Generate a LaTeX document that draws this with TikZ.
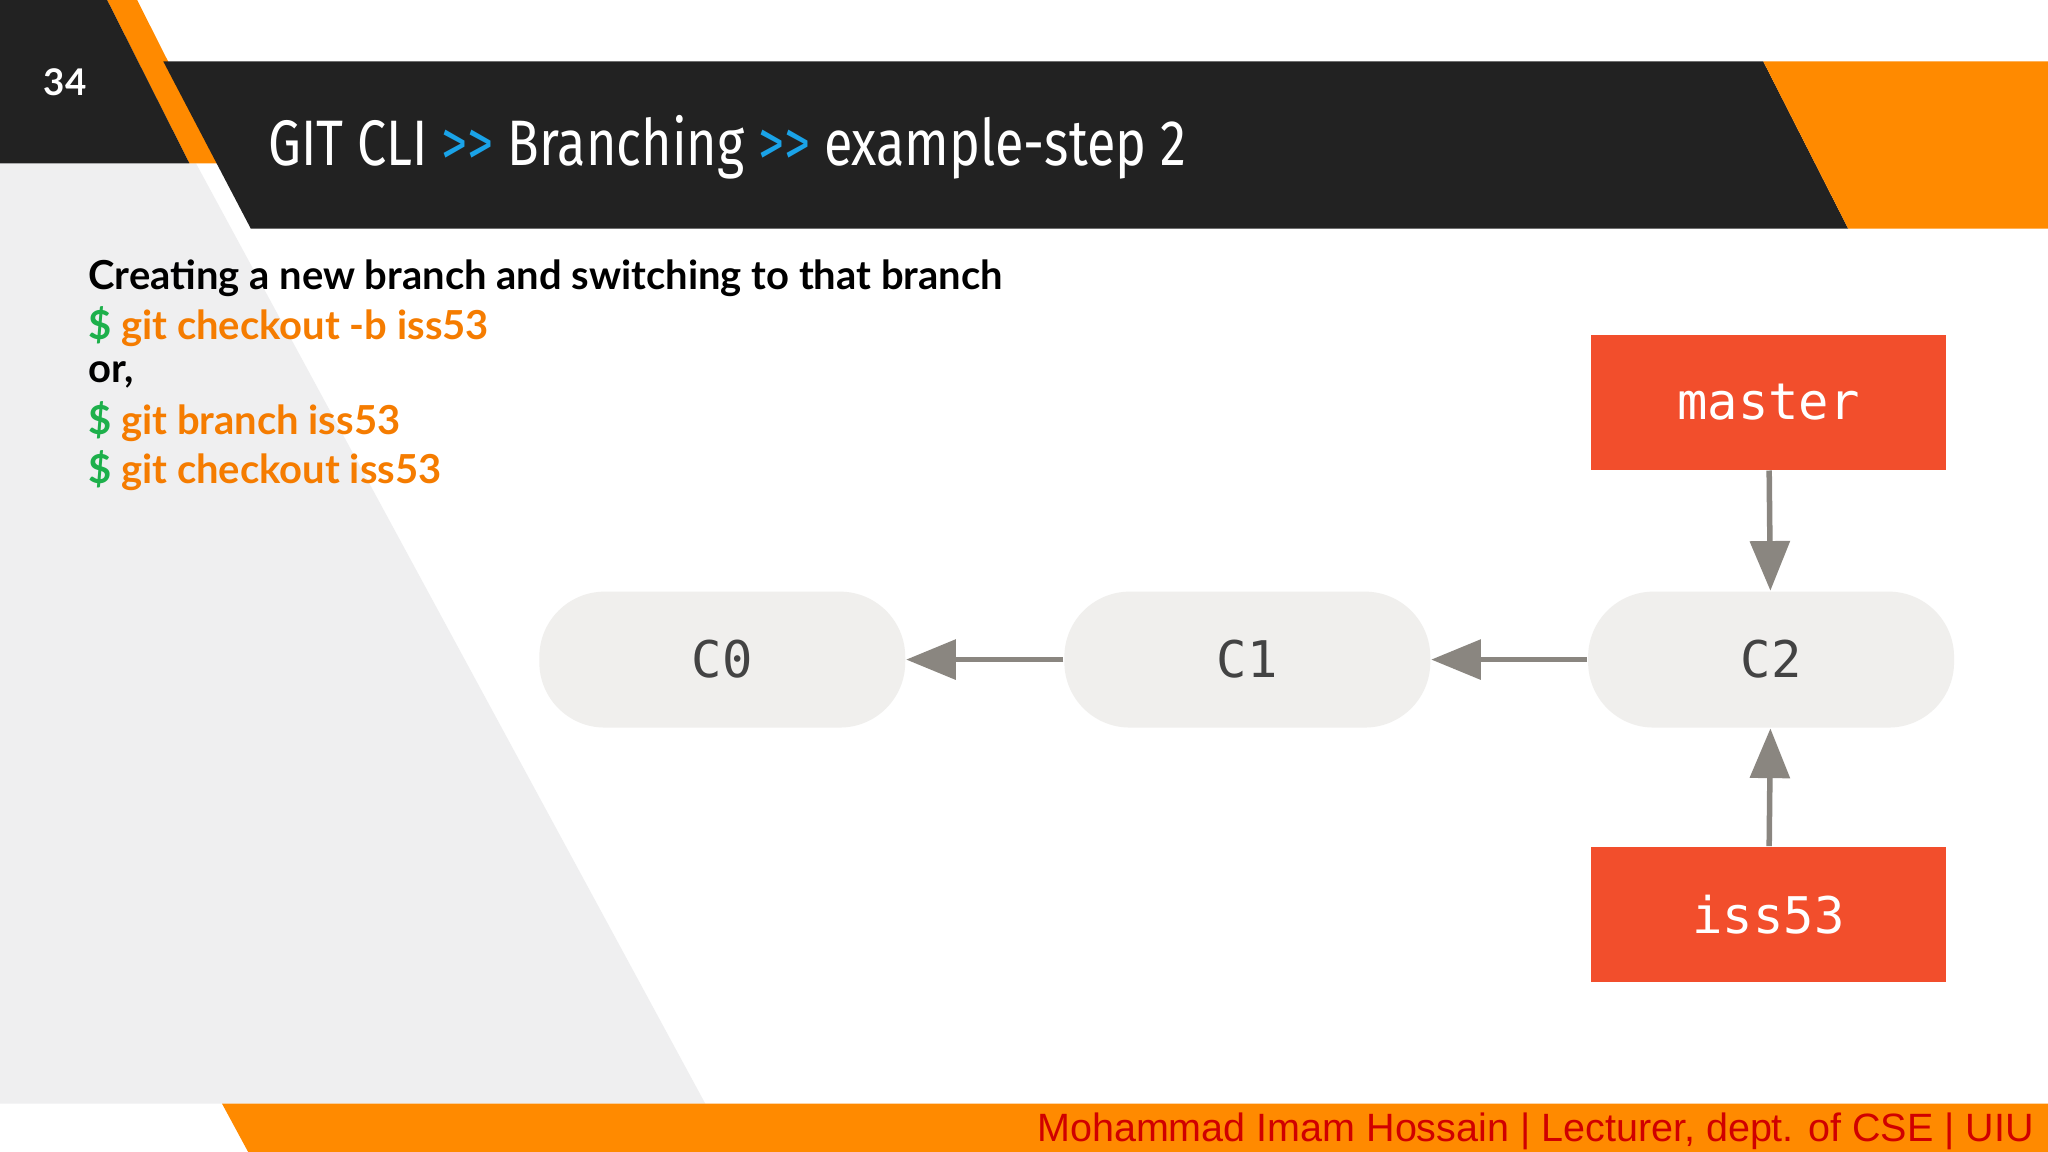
\documentclass[tikz,border=0pt]{standalone}
\usepackage{fontspec}
\setmainfont{Lato}
\newfontfamily\titlefont{Fira Sans}
\newfontfamily\monofont{DejaVu Sans Mono}
\newfontfamily\footfont{Liberation Sans}
\usetikzlibrary{arrows.meta}
\definecolor{dark}{HTML}{222222}
\definecolor{orng}{HTML}{FF8A00}
\definecolor{lgray}{HTML}{EFEFF0}
\definecolor{cyanx}{HTML}{1AA3E8}
\definecolor{greenx}{HTML}{1DB04B}
\definecolor{txtor}{HTML}{F57C00}
\definecolor{commit}{HTML}{F0EFED}
\definecolor{branchc}{HTML}{F24E2C}
\definecolor{arrowc}{HTML}{8A8680}
\definecolor{footred}{HTML}{D00000}
\tikzset{
 commitnode/.style={fill=commit,rounded corners=0.5cm,minimum width=2.8cm,minimum height=1.04cm,font=\monofont\fontsize{11}{11}\selectfont,text=dark!85,inner sep=0},
 branchnode/.style={fill=branchc,minimum width=2.72cm,minimum height=1.03cm,font=\monofont\fontsize{11}{11}\selectfont,text=white,inner sep=0},
 conn/.style={draw=arrowc,line width=1.2pt,-{Triangle[length=0.38cm,width=0.3cm]}},
 body/.style={anchor=west,font=\bfseries\fontsize{8.7}{8.7}\selectfont,inner sep=0}
}
\begin{document}
\begin{tikzpicture}[x=0.01cm,y=-0.01cm]
\useasboundingbox (0,0) rectangle (1568,882);
\fill[white] (0,0) rectangle (1568,882);
\fill[lgray] (0,125) -- (150,125) -- (540,845) -- (0,845) -- cycle;
\fill[orng] (82,0) -- (105,0) -- (168,125) -- (145,125) -- cycle;
\fill[dark] (0,0) -- (82,0) -- (145,125) -- (0,125) -- cycle;
\fill[dark] (125,47) -- (1350,47) -- (1415,175) -- (192,175) -- cycle;
\fill[orng] (1350,47) -- (1568,47) -- (1568,175) -- (1415,175) -- cycle;
\node[font=\bfseries\fontsize{8}{8}\selectfont,text=white] (num) at (50,63) {34};
\node[anchor=west,font=\titlefont\fontsize{14}{14}\selectfont,text=white,inner sep=0] (title) at (205,113) {\scalebox{0.81}[1]{GIT CLI \textcolor{cyanx}{>>} Branching \textcolor{cyanx}{>>} example-step 2}};
\node[body] (l1) at (67,213) {Creating a new branch and switching to that branch};
\node[body,text=txtor] (l2) at (67,250) {\textcolor{greenx}{\$} git checkout -b iss53};
\node[body] (l3) at (67,287) {or,};
\node[body,text=txtor] (l4) at (67,323) {\textcolor{greenx}{\$} git branch iss53};
\node[body,text=txtor] (l5) at (67,360) {\textcolor{greenx}{\$} git checkout iss53};
\node[commitnode] (c0) at (553,505) {C0};
\node[commitnode] (c1) at (955,505) {C1};
\node[commitnode] (c2) at (1356,505) {C2};
\node[branchnode] (master) at (1354,308) {master};
\node[branchnode] (iss) at (1354,700) {iss53};
\draw[conn] (c1) -- (c0);
\draw[conn] (c2) -- (c1);
\draw[conn] (master) -- (c2);
\draw[conn] (iss) -- (c2);
\fill[orng] (170,845) -- (1568,845) -- (1568,882) -- (190,882) -- cycle;
\node[anchor=east,font=\footfont\fontsize{8.6}{8.6}\selectfont,text=footred,inner sep=0] (foot) at (1558,866) {Mohammad Imam Hossain | Lecturer, dept. of CSE | UIU};
\end{tikzpicture}
\end{document}
